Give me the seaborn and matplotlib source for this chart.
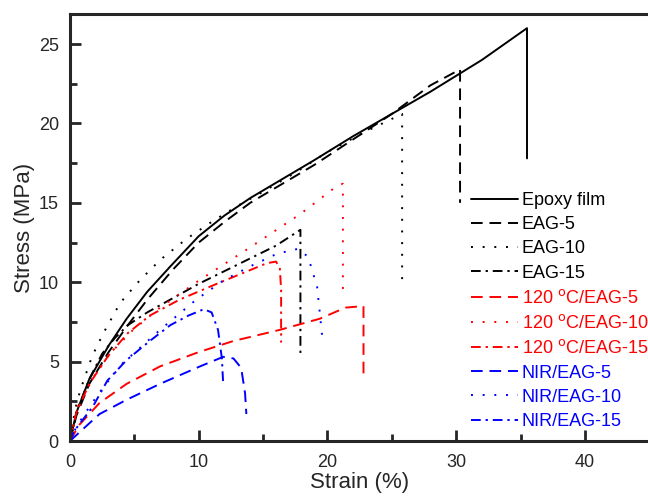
import numpy as np
import pandas as pd
import matplotlib
matplotlib.use("Agg")
import matplotlib.pyplot as plt
from matplotlib.ticker import MultipleLocator
import seaborn as sns

# strain (%) / stress (MPa)
epoxy_strain = [0, 0.5, 1.5, 3, 4.4, 6, 7.8, 10, 12, 14, 16.5, 19, 22, 25, 28, 32, 35.5, 35.5]
epoxy_stress = [0, 1.8, 3.9, 6.0, 7.7, 9.4, 11.0, 12.9, 14.2, 15.3, 16.5, 17.7, 19.2, 20.6, 22.0, 24.0, 26.0, 17.8]

eag5_strain = [0, 0.5, 1.5, 3, 4.5, 6, 8, 10, 12, 14, 16.5, 19, 22, 25, 28, 30.3, 30.3]
eag5_stress = [0, 1.6, 3.6, 5.6, 7.3, 8.9, 10.8, 12.5, 13.8, 15.0, 16.2, 17.4, 19.0, 20.6, 22.4, 23.4, 15.0]

eag10_strain = [0, 0.4, 0.8, 1.7, 2.6, 3.9, 5.4, 7, 9, 11, 13, 15, 17.5, 20, 23, 25.8, 25.8]
eag10_stress = [0, 2.0, 3.2, 5.3, 6.8, 8.7, 10.1, 11.4, 12.7, 13.8, 14.8, 15.7, 16.9, 18.2, 19.5, 20.6, 9.9]

eag15_strain = [0, 0.5, 1.5, 2.5, 3.5, 4.5, 6, 8, 10, 12, 14, 16, 17.9, 17.9]
eag15_stress = [0, 1.8, 3.9, 5.5, 6.5, 7.3, 8.1, 9.0, 9.9, 10.7, 11.5, 12.3, 13.3, 5.4]

t120_5_strain = [0, 0.7, 2.3, 4.4, 7, 10, 12.7, 16.3, 19.4, 21.4, 22.8, 22.8]
t120_5_stress = [0, 1.0, 2.4, 3.6, 4.7, 5.6, 6.3, 7.0, 7.7, 8.4, 8.5, 4.0]

t120_10_strain = [0, 0.5, 1.8, 3.1, 4.9, 7, 10, 14, 17.9, 20.8, 21.2, 21.2]
t120_10_stress = [0, 2.0, 4.0, 5.5, 7.0, 8.4, 10.1, 12.2, 14.3, 16.1, 16.2, 9.0]

t120_15_strain = [0, 0.5, 1.5, 3, 4.5, 6.2, 8.5, 11.4, 13.5, 15.3, 16.0, 16.3, 16.4, 16.4]
t120_15_stress = [0, 1.8, 3.6, 5.4, 6.8, 7.9, 8.9, 9.9, 10.6, 11.2, 11.3, 10.9, 9.5, 6.2]

nir5_strain = [0, 0.8, 2.3, 4.4, 7, 10.1, 11.9, 12.7, 13.3, 13.6, 13.7]
nir5_stress = [0, 0.6, 1.7, 2.6, 3.6, 4.7, 5.3, 5.2, 4.6, 3.0, 1.7]

nir10_strain = [0, 0.5, 1.55, 2.6, 4.1, 7, 9.8, 11.9, 14, 16.1, 17.7, 18.5, 19.2, 19.6]
nir10_stress = [0, 0.9, 2.2, 3.4, 4.9, 7.0, 8.9, 10.1, 11.0, 11.8, 12.1, 11.6, 9.7, 6.5]

nir15_strain = [0, 0.3, 1.8, 2.9, 4.4, 6.2, 7.8, 9.2, 10.4, 11.0, 11.5, 11.8, 11.9]
nir15_stress = [0, 0.6, 2.2, 3.8, 5.1, 6.3, 7.3, 7.9, 8.3, 8.1, 7.0, 5.2, 3.6]

labels = ["Epoxy film", "EAG-5", "EAG-10", "EAG-15",
          "120 $^{\\rm o}$C/EAG-5", "120 $^{\\rm o}$C/EAG-10", "120 $^{\\rm o}$C/EAG-15",
          "NIR/EAG-5", "NIR/EAG-10", "NIR/EAG-15"]

series = [
    (epoxy_strain, epoxy_stress), (eag5_strain, eag5_stress),
    (eag10_strain, eag10_stress), (eag15_strain, eag15_stress),
    (t120_5_strain, t120_5_stress), (t120_10_strain, t120_10_stress),
    (t120_15_strain, t120_15_stress), (nir5_strain, nir5_stress),
    (nir10_strain, nir10_stress), (nir15_strain, nir15_stress),
]

colors = ["black"] * 4 + ["#ff0000"] * 3 + ["#0000ff"] * 3
dash = (0, (6, 3.5))
dot = (0, (1, 5))
dashdot = (0, (5, 2.5, 1.2, 2.5))
styles = ["-", dash, dot, dashdot, dash, dot, dashdot, dash, dot, dashdot]

sns.set_style("ticks")
plt.rcParams["font.family"] = ["Liberation Sans", "DejaVu Sans"]

fig = plt.figure(figsize=(6.48, 4.99), dpi=100)
ax = fig.add_axes([0.108, 0.1162, 0.894, 0.856])

for (xs, ys), lab, c, ls in zip(series, labels, colors, styles):
    df = pd.DataFrame({"strain": xs, "stress": ys})
    sns.lineplot(data=df, x="strain", y="stress", sort=False, estimator=None,
                 color=c, linestyle=ls, linewidth=1.4, label=lab, ax=ax)

ax.set_xlim(0, 45)
ax.set_ylim(0, 26.9)
ax.xaxis.set_major_locator(MultipleLocator(10))
ax.xaxis.set_minor_locator(MultipleLocator(5))
ax.yaxis.set_major_locator(MultipleLocator(5))
ax.yaxis.set_minor_locator(MultipleLocator(2.5))
ax.tick_params(which="both", direction="in", width=2, labelsize=13)
ax.tick_params(axis="x", pad=9)
ax.tick_params(axis="y", pad=8)
ax.tick_params(which="major", length=8)
ax.tick_params(which="minor", length=5)
for side in ["left", "bottom", "top"]:
    ax.spines[side].set_visible(True)
    ax.spines[side].set_linewidth(2.2)
ax.spines["right"].set_visible(False)

ax.set_xlabel("Strain (%)", fontsize=16, labelpad=1)
ax.set_ylabel("Stress (MPa)", fontsize=16, labelpad=3)

leg = ax.legend(loc="upper left", bbox_to_anchor=(0.68, 0.60), frameon=False,
                fontsize=13, handlelength=2.6, handletextpad=0.2,
                labelspacing=0.40, borderaxespad=0)
for txt, c in zip(leg.get_texts(), colors):
    txt.set_color(c)

fig.savefig("out.png", dpi=100)
